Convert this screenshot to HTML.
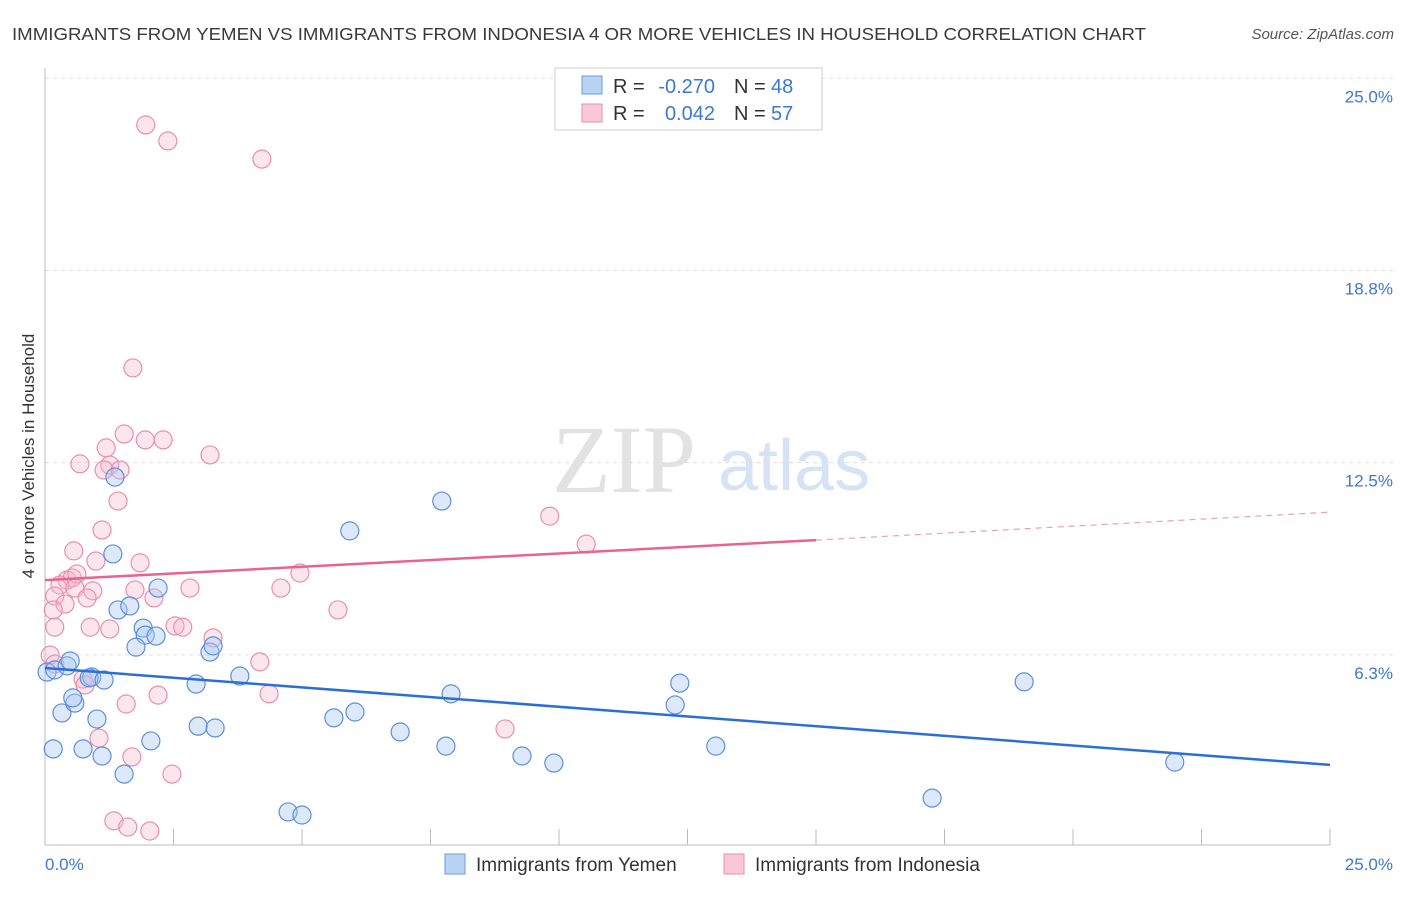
<!DOCTYPE html>
<html><head><meta charset="utf-8"><style>
body{margin:0;background:#fff;font-family:"Liberation Sans",sans-serif}
</style></head><body>
<svg width="1406" height="892" xmlns="http://www.w3.org/2000/svg" id="c" style="font-family:'Liberation Sans',sans-serif">
<text x="12" y="40" font-size="17.5" fill="#3a3a3a" textLength="1134" lengthAdjust="spacingAndGlyphs">IMMIGRANTS FROM YEMEN VS IMMIGRANTS FROM INDONESIA 4 OR MORE VEHICLES IN HOUSEHOLD CORRELATION CHART</text>
<text x="1394" y="39" font-size="15" fill="#555" font-style="italic" text-anchor="end">Source: ZipAtlas.com</text>
<g>
<text x="552" y="492" font-size="96" font-family="'Liberation Serif',serif" fill="#e2e2e2">ZIP</text>
<text x="718" y="490" font-size="72" fill="#d5e3f5">atlas</text>
</g>
<g id="grid"></g>
<line x1="45" y1="68" x2="45" y2="845" stroke="#bbb"/>
<line x1="45" y1="845" x2="1330" y2="845" stroke="#bbb"/>
<g id="xt"></g>
<text transform="translate(34,456) rotate(-90)" font-size="17" fill="#333" text-anchor="middle">4 or more Vehicles in Household</text>
<text x="45" y="870" font-size="17" fill="#3b78d8">0.0%</text>
<text x="1393" y="870" font-size="17" fill="#3b78d8" text-anchor="end">25.0%</text>
<g id="pts"></g>
<g id="lines"></g>
<g>
<rect x="555" y="68" width="267" height="62" fill="#fff" stroke="#ccc"/>
<rect x="582" y="76" width="20" height="18" fill="#b9d3f5" stroke="#6a9be0"/>
<rect x="582" y="104" width="20" height="18" fill="#f9c8d6" stroke="#ea8fab"/>
<g font-size="20" fill="#333">
<text x="613" y="93">R =</text><text x="715" y="93" fill="#3b78d8" text-anchor="end">-0.270</text>
<text x="734" y="93">N =</text><text x="771" y="93" fill="#3b78d8">48</text></g>
<g font-size="20" fill="#333">
<text x="613" y="120">R =</text><text x="715" y="120" fill="#3b78d8" text-anchor="end">0.042</text>
<text x="734" y="120">N =</text><text x="771" y="120" fill="#3b78d8">57</text></g>
</g>
<g>
<rect x="445" y="854" width="20" height="20" fill="#b9d3f5" stroke="#6a9be0"/>
<text x="476" y="871" font-size="19" fill="#333">Immigrants from Yemen</text>
<rect x="724" y="854" width="20" height="20" fill="#f9c8d6" stroke="#ea8fab"/>
<text x="755" y="871" font-size="19" fill="#333">Immigrants from Indonesia</text>
</g>
</svg>
<script>
const yTicks=[6.25,12.5,18.75,25];
const yTickLabels=["6.3%","12.5%","18.8%","25.0%"];
const xTicks=[0,2.5,5,7.5,10,12.5,15,17.5,20,22.5,25];
const yemenX=[.04,.19,.43,.49,.33,.58,.54,.91,.86,1.15,1.01,.16,.74,1.11,1.54,2.06,1.36,1.32,1.42,1.65,1.91,1.95,2.16,1.77,2.20,2.94,2.98,3.31,3.21,3.27,3.79,4.73,5.00,5.62,6.03,5.93,6.91,7.80,7.72,7.90,9.28,9.90,12.26,12.35,13.05,17.26,19.05,21.98];
const yemenY=[5.69,5.76,5.89,6.05,4.36,4.68,4.85,5.53,5.50,5.43,4.16,3.19,3.19,2.96,2.37,3.45,12.03,9.53,7.71,7.84,7.12,6.89,6.86,6.50,8.42,5.30,3.93,3.87,6.34,6.54,5.56,1.14,1.04,4.20,4.39,10.28,3.74,3.28,11.25,4.98,2.96,2.73,4.62,5.33,3.28,1.59,5.37,2.76];
const indoX=[1.96,2.39,4.22,1.71,1.54,1.95,2.30,1.19,1.26,.68,1.15,1.46,3.21,1.42,9.82,10.53,1.11,.56,.99,1.85,.43,.53,.62,.29,.58,.19,.93,.82,1.75,2.82,4.59,4.96,.39,.16,2.12,5.70,.19,.88,1.26,2.53,2.68,3.27,.10,.19,.74,.78,4.18,2.20,4.36,1.58,1.05,8.95,1.69,2.47,1.34,1.61,2.04];
const indoY=[23.48,22.96,22.37,15.58,13.43,13.24,13.24,12.98,12.42,12.46,12.26,12.26,12.75,11.25,10.76,9.85,10.31,9.63,9.30,9.24,8.68,8.75,8.88,8.52,8.42,8.16,8.33,8.10,8.36,8.42,8.42,8.91,7.90,7.71,8.10,7.71,7.15,7.15,7.09,7.19,7.15,6.80,6.24,5.95,5.46,5.27,6.02,4.94,4.98,4.65,3.54,3.84,2.93,2.37,.85,.65,.52];
const yemenTrend=[5.82,2.67];
const indoTrend=[8.68,9.98,10.89];
const indoTrendX=[0,15,25];
const NS="http://www.w3.org/2000/svg";
const X=v=>45+v*1285/25, Y=v=>847-v*30.75;
function mk(t,a,p){const e=document.createElementNS(NS,t);for(const k in a)e.setAttribute(k,a[k]);document.getElementById(p).appendChild(e);return e;}
yTicks.forEach((t,i)=>{
 let l=mk('line',{x1:45,x2:1393,y1:Y(t),y2:Y(t),stroke:'#ddd','stroke-dasharray':'4,4'},'grid');
 
 
 let tx=mk('text',{x:1393,y:Y(t)+24,'font-size':17,fill:'#3b78d8','text-anchor':'end'},'grid');
 tx.textContent=yTickLabels[i];
 
 
});
xTicks.forEach(t=>{
 let l=mk('line',{x1:X(t),x2:X(t),y1:829,y2:845,stroke:'#bbb'},'xt');
 
 
});
indoX.forEach((x,i)=>{
 let c=mk('circle',{cx:X(x),cy:Y(indoY[i]),r:9,fill:'#f6b6ca','fill-opacity':.35,stroke:'#ea8fab','stroke-width':1.2},'pts');
 
 
});
yemenX.forEach((x,i)=>{
 let c=mk('circle',{cx:X(x),cy:Y(yemenY[i]),r:9,fill:'#a9c8f2','fill-opacity':.4,stroke:'#5b8fdc','stroke-width':1.2},'pts');
 
 
});
let b=mk('line',{x1:X(0),y1:Y(yemenTrend[0]),x2:X(25),y2:Y(yemenTrend[1]),stroke:'#2a6fd6','stroke-width':2.5},'lines');


let p=mk('line',{x1:X(indoTrendX[0]),y1:Y(indoTrend[0]),x2:X(indoTrendX[1]),y2:Y(indoTrend[1]),stroke:'#e8648e','stroke-width':2.5},'lines');


let pd=mk('line',{x1:X(indoTrendX[1]),y1:Y(indoTrend[1]),x2:X(indoTrendX[2]),y2:Y(indoTrend[2]),stroke:'#e8a0b8','stroke-width':1.2,'stroke-dasharray':'6,5'},'lines');


</script>
</body></html>
